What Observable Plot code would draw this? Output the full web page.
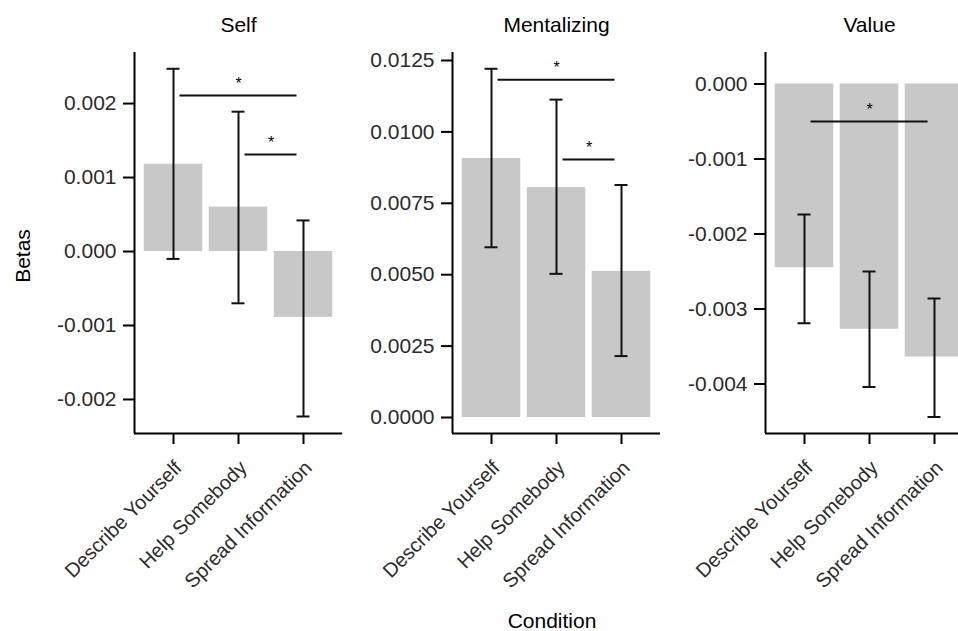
<!DOCTYPE html>
<html><head><meta charset="utf-8">
<script src="https://cdn.jsdelivr.net/npm/d3@7"></script>
<script src="https://cdn.jsdelivr.net/npm/@observablehq/plot@0.6"></script>
<style>
body{margin:0;background:#fff;overflow:hidden;font-family:"Liberation Sans",Arial,sans-serif}
#chart{position:relative;width:958px;height:631px;overflow:hidden;background:#fff}
.panel{position:absolute;top:0}
.panel svg{max-width:none !important}
.atitle{position:absolute;color:#000;font-size:21px;white-space:nowrap;line-height:1}
</style></head><body><div id="chart"></div>
<script>
const categories = ["Describe Yourself", "Help Somebody", "Spread Information"];
const panelNames = ["Self", "Mentalizing", "Value"];

// Self
const selfBeta = [0.00118, 0.00060, -0.00089];
const selfLow = [-0.00010, -0.00070, -0.00223];
const selfHigh = [0.00247, 0.00189, 0.00042];
const selfTicks = [-0.002, -0.001, 0, 0.001, 0.002];
const selfSigFrom = ["Describe Yourself", "Help Somebody"];
const selfSigTo = ["Spread Information", "Spread Information"];
const selfSigY = [0.00211, 0.00131];

// Mentalizing
const mentBeta = [0.00907, 0.00805, 0.00512];
const mentLow = [0.00596, 0.00503, 0.00215];
const mentHigh = [0.01221, 0.01113, 0.00814];
const mentTicks = [0, 0.0025, 0.005, 0.0075, 0.01, 0.0125];
const mentSigFrom = ["Describe Yourself", "Help Somebody"];
const mentSigTo = ["Spread Information", "Spread Information"];
const mentSigY = [0.01183, 0.00903];

// Value
const valBeta = [-0.00245, -0.00327, -0.00364];
const valLow = [-0.00319, -0.00404, -0.00444];
const valHigh = [-0.00174, -0.00250, -0.00286];
const valTicks = [-0.004, -0.003, -0.002, -0.001, 0];
const valSigFrom = ["Describe Yourself"];
const valSigTo = ["Spread Information"];
const valSigY = [-0.0005];

const xDomain = [0.4, 3.6];
const xTicks = [1, 2, 3];
const font = "'Liberation Sans', Arial, sans-serif";

function panel(p) {
  const rows = categories.map((c, k) => ({c, i: k + 1, beta: p.beta[k], lo: p.lo[k], hi: p.hi[k]}));
  const sigs = p.sigFrom.map((f, k) => ({a: categories.indexOf(f) + 1, b: categories.indexOf(p.sigTo[k]) + 1, y: p.sigY[k]}));
  return Plot.plot({
    width: p.width, height: 600,
    marginLeft: p.marginLeft, marginRight: 0, marginTop: 52, marginBottom: 167,
    style: {fontFamily: font, background: "transparent", overflow: "visible", maxWidth: "none"},
    x: {domain: xDomain},
    y: {domain: p.domain},
    marks: [
      Plot.rectY(rows, {x1: d => d.i - 0.45, x2: d => d.i + 0.45, y1: () => 0, y2: "beta", fill: "#c8c8c8"}),
      Plot.ruleX(rows, {x: "i", y1: "lo", y2: "hi", stroke: "#111", strokeWidth: 2}),
      Plot.ruleY(rows, {x1: d => d.i - 0.1, x2: d => d.i + 0.1, y: "lo", stroke: "#111", strokeWidth: 2}),
      Plot.ruleY(rows, {x1: d => d.i - 0.1, x2: d => d.i + 0.1, y: "hi", stroke: "#111", strokeWidth: 2}),
      Plot.ruleY(sigs, {x1: d => d.a + 0.1, x2: d => d.b - 0.1, y: "y", stroke: "#111", strokeWidth: 2}),
      Plot.text(sigs, {x: d => (d.a + d.b) / 2, y: "y", text: () => "*", dy: -12, fontSize: 16, fill: "#000"}),
      Plot.ruleX([xDomain[0]], {stroke: "#000", strokeWidth: 2}),
      Plot.ruleY([p.domain[0]], {stroke: "#000", strokeWidth: 2}),
      Plot.axisY({ticks: p.ticks, tickFormat: d => d.toFixed(p.digits), tickSize: 11, tickPadding: 7, fontSize: 21, stroke: "#000", fill: "#2b2b2b", strokeWidth: 2, label: null}),
      Plot.axisX({ticks: xTicks, tickFormat: () => "", tickSize: 11, stroke: "#000", strokeWidth: 2, label: null}),
      Plot.axisX({ticks: xTicks, tickFormat: i => categories[i - 1], tickSize: 0, tickPadding: 31, tickRotate: -45, fontSize: 20, dx: 5, fill: "#2b2b2b", label: null}),
      Plot.text([p.name], {x: () => 2, frameAnchor: "top", lineAnchor: "middle", text: d => d, dy: -27, fontSize: 21, fill: "#000"})
    ]
  });
}

const cfgs = [
  {name: panelNames[0], beta: selfBeta, lo: selfLow, hi: selfHigh, ticks: selfTicks, digits: 3, domain: [-0.00246, 0.00269], sigFrom: selfSigFrom, sigTo: selfSigTo, sigY: selfSigY, left: 0, marginLeft: 134, width: 342},
  {name: panelNames[1], beta: mentBeta, lo: mentLow, hi: mentHigh, ticks: mentTicks, digits: 4, domain: [-0.00056, 0.01278], sigFrom: mentSigFrom, sigTo: mentSigTo, sigY: mentSigY, left: 345, marginLeft: 107, width: 315},
  {name: panelNames[2], beta: valBeta, lo: valLow, hi: valHigh, ticks: valTicks, digits: 3, domain: [-0.00466, 0.00042], sigFrom: valSigFrom, sigTo: valSigTo, sigY: valSigY, left: 665, marginLeft: 100, width: 308}
];

const chart = document.getElementById("chart");
for (const c of cfgs) {
  const div = document.createElement("div");
  div.className = "panel";
  div.style.left = c.left + "px";
  div.style.width = c.width + "px";
  div.appendChild(panel(c));
  chart.appendChild(div);
}
const betas = document.createElement("div");
betas.className = "atitle";
betas.textContent = "Betas";
betas.style.left = "22px"; betas.style.top = "256px";
betas.style.transform = "translate(-50%,-50%) rotate(-90deg)";
chart.appendChild(betas);
const cond = document.createElement("div");
cond.className = "atitle";
cond.textContent = "Condition";
cond.style.left = "552px"; cond.style.top = "620px";
cond.style.transform = "translate(-50%,-50%)";
chart.appendChild(cond);
</script></body></html>
